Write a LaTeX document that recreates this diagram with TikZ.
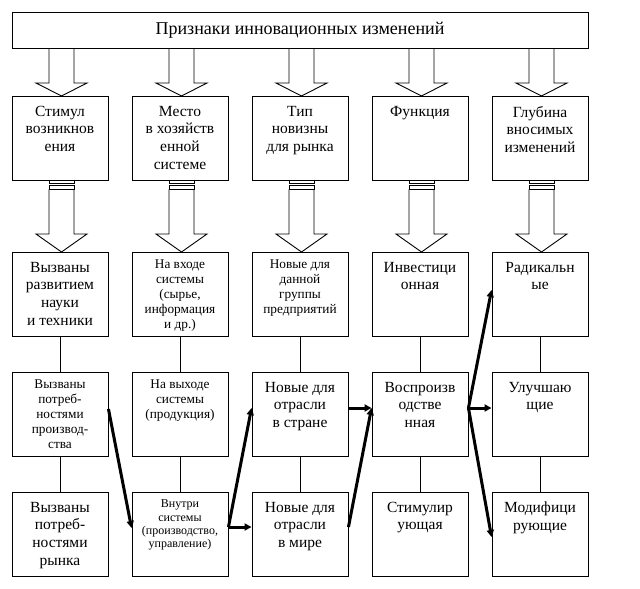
\documentclass[tikz,border=0pt]{standalone}
\usepackage{fontspec}
\setmainfont{Liberation Serif}
\usetikzlibrary{arrows.meta,calc}
\newcommand\mycell[4]{\parbox[c][84pt][t]{96pt}{\centering\fontsize{#2}{#3}\selectfont\vspace*{#1}#4}}
\newcommand\bigtxt[1]{\mycell{10pt}{15.5pt}{17.7pt}{#1}}
\newcommand\smalltxt[1]{\mycell{7.8pt}{13.3pt}{15pt}{#1}}
\newcommand\tinytxt[1]{\mycell{8pt}{12pt}{13.2pt}{#1}}
\tikzset{
  cell/.style={draw, inner sep=0pt, line width=0.9pt},
  outline/.style={draw, line width=0.9pt, line join=miter},
  link/.style={draw, line width=0.9pt},
  flowarrow/.style={line width=3pt, line join=round, -{Triangle[length=7pt,width=7pt]}}
}
\begin{document}
\begin{tikzpicture}[x=1pt,y=-1pt]
\useasboundingbox[fill=white] (0,0) rectangle (640,589);
% title
\node[cell, minimum width=576pt, minimum height=36pt] (top) at (300,30)
  {\fontsize{18pt}{21pt}\selectfont Признаки инновационных изменений};
% hollow arrows
\foreach \c in {60,180,300,420,540}{
  \pgfmathsetmacro\m{\c+1.5}
  \pgfmathsetmacro\sl{\m-12.5}
  \pgfmathsetmacro\sr{\m+12.5}
  \pgfmathsetmacro\wl{\m-25.5}
  \pgfmathsetmacro\wr{\m+25.5}
  \draw[outline] (\sl,48) -- (\sl,83) -- (\wl,83) -- (\m,96) -- (\wr,83) -- (\sr,83) -- (\sr,48);
  \draw[outline] (\sl,180) rectangle (\sr,183.3);
  \draw[outline] (\sl,185) rectangle (\sr,189.3);
  \draw[outline] (\sl,189.3) -- (\sl,234) -- (\wl,234) -- (\m,252) -- (\wr,234) -- (\sr,234) -- (\sr,189.3);
}
% row 1
\node[cell] (r1c1) at (60,138) {\bigtxt{Стимул\\возникнов\\ения}};
\node[cell] (r1c2) at (180,138) {\bigtxt{Место\\в хозяйств\\енной\\системе}};
\node[cell] (r1c3) at (300,138) {\bigtxt{Тип\\новизны\\для рынка}};
\node[cell] (r1c4) at (420,138) {\bigtxt{Функция}};
\node[cell] (r1c5) at (540,138) {\bigtxt{Глубина\\вносимых\\изменений}};
% row 2
\node[cell] (r2c1) at (60,294) {\bigtxt{Вызваны\\развитием\\науки\\и техники}};
\node[cell] (r2c2) at (180,294) {\smalltxt{На входе\\системы\\(сырье,\\информация\\и др.)}};
\node[cell] (r2c3) at (300,294) {\smalltxt{Новые для\\данной\\группы\\предприятий}};
\node[cell] (r2c4) at (420,294) {\bigtxt{Инвестици\\онная}};
\node[cell] (r2c5) at (540,294) {\bigtxt{Радикальн\\ые}};
% row 3
\node[cell] (r3c1) at (60,414) {\smalltxt{Вызваны\\потреб-\\ностями\\производ-\\ства}};
\node[cell] (r3c2) at (180,414) {\smalltxt{На выходе\\системы\\(продукция)}};
\node[cell] (r3c3) at (300,414) {\bigtxt{Новые для\\отрасли\\в стране}};
\node[cell] (r3c4) at (420,414) {\bigtxt{Воспроизв\\одстве\\нная}};
\node[cell] (r3c5) at (540,414) {\bigtxt{Улучшаю\\щие}};
% row 4
\node[cell] (r4c1) at (60,534) {\bigtxt{Вызваны\\потреб-\\ностями\\рынка}};
\node[cell] (r4c2) at (180,534) {\tinytxt{Внутри\\системы\\(производство,\\управление)}};
\node[cell] (r4c3) at (300,534) {\bigtxt{Новые для\\отрасли\\в мире}};
\node[cell] (r4c4) at (420,534) {\bigtxt{Стимулир\\ующая}};
\node[cell] (r4c5) at (540,534) {\bigtxt{Модифици\\рующие}};
% thin links
\foreach \i in {1,...,5}{
  \draw[link] (r2c\i) -- (r3c\i);
  \draw[link] (r3c\i) -- (r4c\i);
}
% thick arrows
\draw[flowarrow] ([yshift=5pt]r3c1.east) -- ([yshift=6pt]r4c2.west);
\draw[flowarrow] ([yshift=7pt]r4c2.east) -- ([yshift=7pt]r4c3.west);
\draw[flowarrow] ([yshift=7pt]r4c2.east) -- ([yshift=6pt]r3c3.west);
\draw[flowarrow] ([yshift=6pt]r3c3.east) -- ([yshift=6pt]r3c4.west);
\draw[flowarrow] ([yshift=7pt]r4c3.east) -- ([yshift=6pt]r3c4.west);
\draw[flowarrow] ([yshift=6pt]r3c4.east) -- ([yshift=6pt]r3c5.west);
\draw[flowarrow] ([yshift=6pt]r3c4.east) -- ([yshift=4pt]r2c5.west);
\draw[flowarrow] ([yshift=6pt]r3c4.east) -- ([yshift=-3pt]r4c5.west);
\end{tikzpicture}
\end{document}
